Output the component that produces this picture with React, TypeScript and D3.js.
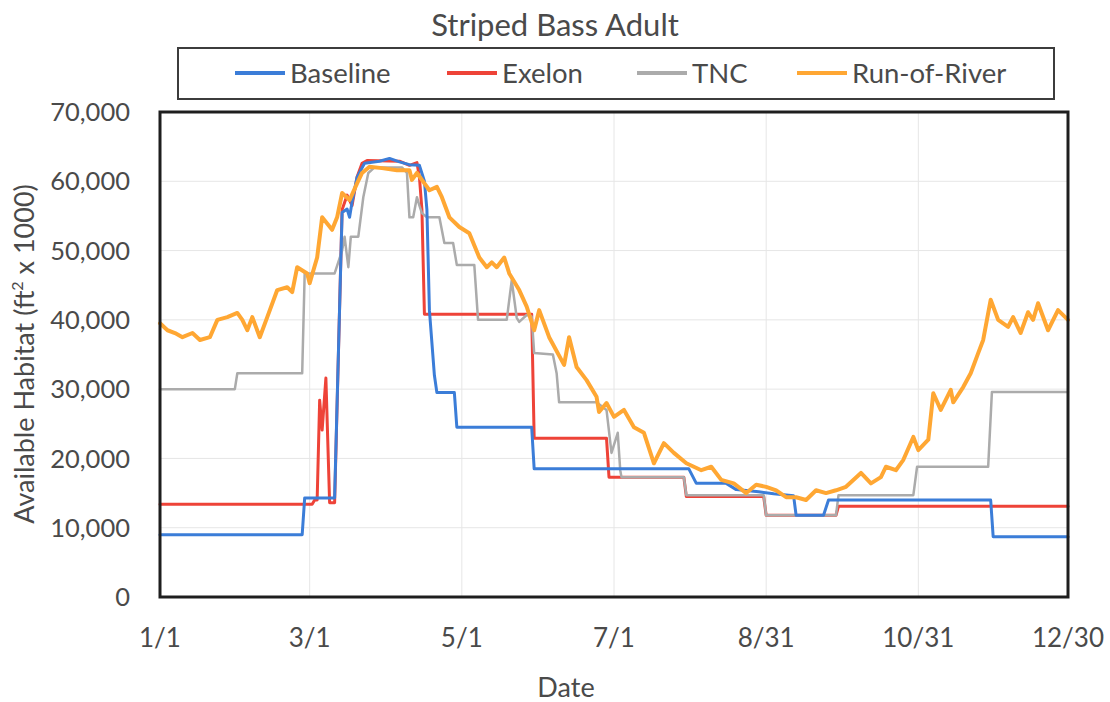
import React from "react";
import * as d3 from "d3";

// Day-of-year (leap year, 1/1 = 0) and value pairs
const baselinePts: [number, number][] = [
  [0, 9000], [57, 9000], [58, 14300], [70, 14300], [73, 55500], [75, 56000], [76, 54800],
  [77, 57000], [79, 60600], [82, 62600], [88, 62900], [92, 63300], [96, 62800], [100, 62400],
  [104, 62300], [106, 60000], [107, 55900], [108, 41400], [110, 32000], [111, 29500],
  [118, 29500], [119, 24500], [149, 24500], [150, 18500], [212, 18500], [215, 16400],
  [227, 16400], [231, 15500], [240, 15200], [246, 14900], [254, 14600], [255, 11800],
  [266, 11800], [268, 14000], [333, 14000], [334, 8700], [364, 8700],
];

const exelonPts: [number, number][] = [
  [0, 13400], [61, 13400], [62, 14000], [63, 14000], [64, 28400], [65, 24100], [66.5, 31600],
  [68, 13600], [70, 13600], [73, 55900], [75, 58000], [77, 56500], [79, 60600], [81, 62600],
  [83, 63000], [96, 62900], [100, 62300], [103, 62700], [104, 60600], [105, 55900],
  [106, 40800], [149, 40800], [150, 22900], [179, 22900], [180, 17300], [210, 17300],
  [211, 14500], [242, 14500], [243, 11800], [271, 11800], [272, 13100], [364, 13100],
];

const tncPts: [number, number][] = [
  [0, 30000], [30, 30000], [31, 32300], [57, 32300], [58, 46700], [70, 46700], [73, 50000],
  [74, 52000], [75.5, 47600], [76.5, 52000], [79.5, 52000], [81.5, 57700], [83.5, 61200],
  [86, 62000], [97, 62000], [99, 61200], [100, 54800], [101.5, 54800], [103, 57700],
  [104, 56500], [105, 55400], [107, 54800], [112, 54800], [114, 51100], [117.5, 51100],
  [119, 47900], [126, 47900], [127.5, 40000], [139, 40000], [141, 45700], [143, 40300],
  [144, 39700], [147, 40700], [149, 40500], [150, 35200], [157.5, 35000], [159, 32300],
  [160, 28100], [175, 28100], [179, 27000], [181, 20800], [183.5, 23700], [184.5, 18300],
  [185, 17300], [210, 17300], [211, 14700], [242, 14700], [243, 11800], [271, 11800],
  [272, 14700], [302, 14700], [303.5, 18800], [332, 18800], [333.5, 29600], [364, 29600],
];

const rorPts: [number, number][] = [
  [0, 39500], [3, 38500], [6, 38100], [9, 37500], [13, 38100], [16, 37100], [20, 37500],
  [23, 40000], [27, 40400], [31, 41000], [33, 40000], [35, 38500], [37, 40400], [40, 37500],
  [43, 40400], [47, 44300], [51, 44700], [53, 44000], [55, 47600], [59, 46700], [60, 45300],
  [63, 49000], [65, 54800], [69, 53000], [71, 54800], [73, 58300], [76, 57300], [79, 59700],
  [81, 61200], [84, 62100], [89, 61900], [95, 61600], [100, 61600], [101, 60200],
  [103, 61200], [105, 60200], [108, 58700], [111, 59200], [113, 57700], [116, 54800],
  [120, 53400], [124, 52500], [128, 49000], [131, 47600], [133, 48300], [135, 47600],
  [138, 49000], [140, 46700], [144, 44300], [147, 41900], [150, 38500], [152, 41400],
  [156, 37500], [162, 33500], [164, 37500], [167, 33200], [171, 31300], [175, 28900],
  [176, 26700], [179, 28000], [182, 26000], [186, 27000], [190, 24500], [194, 23700],
  [198, 19300], [202, 22200], [206, 20800], [211, 19300], [217, 18300], [221, 18800],
  [225, 16900], [230, 16400], [235, 15000], [239, 16200], [243, 15900], [247, 15400],
  [251, 14400], [255, 14400], [259, 14000], [263, 15400], [267, 15000], [271, 15400],
  [275, 15900], [281, 17900], [285, 16400], [289, 17300], [291, 18800], [295, 18300],
  [298, 19800], [302, 23100], [304, 21200], [308, 22700], [310, 29400], [313, 27000],
  [317, 29900], [318, 28100], [322, 30300], [325, 32300], [328, 35200], [330, 37100],
  [333, 42900], [336, 40000], [340, 39000], [342, 40400], [345, 38100], [348, 41100],
  [350, 40000], [352, 42400], [356, 38500], [360, 41400], [364, 40000],
];

const seriesNames = ["Baseline", "Exelon", "TNC", "Run-of-River"];
const seriesColors = ["#3b7dd8", "#ee4338", "#ababab", "#ffa733"];
const xTickDays = [0, 60, 121, 182, 243, 304, 364];
const xTickLabels = ["1/1", "3/1", "5/1", "7/1", "8/31", "10/31", "12/30"];
const yTicks = [0, 10000, 20000, 30000, 40000, 50000, 60000, 70000];

const W = 1110;
const H = 702;
const plot = { left: 160, right: 1068, top: 112, bottom: 597 };
const font = "Lato, 'Open Sans', sans-serif";
const textColor = "#4a4a4a";

export default function App() {
  const x = d3.scaleLinear().domain([0, 364]).range([plot.left, plot.right]);
  const y = d3.scaleLinear().domain([0, 70000]).range([plot.bottom, plot.top]);
  const line = d3
    .line<[number, number]>()
    .x((d) => x(d[0]))
    .y((d) => y(d[1]));

  const fmt = d3.format(",");
  const series = [baselinePts, exelonPts, tncPts, rorPts];
  const widths = [3, 3, 2.5, 4];
  // drawing order: Exelon, TNC, Baseline, Run-of-River on top
  const order = [1, 2, 0, 3];
  const legendX = [235, 447, 637, 797];

  return (
    <svg
      width={W}
      height={H}
      style={{ position: "absolute", left: 0, top: 0, background: "#fff" }}
      fontFamily={font}
    >
      <rect x={0} y={0} width={W} height={H} fill="#fff" />

      {/* gridlines */}
      {yTicks.map((t) => (
        <line key={"gy" + t} x1={plot.left} x2={plot.right} y1={y(t)} y2={y(t)} stroke="#e6e6e6" strokeWidth={1} />
      ))}
      {xTickDays.map((d) => (
        <line key={"gx" + d} x1={x(d)} x2={x(d)} y1={plot.top} y2={plot.bottom} stroke="#e6e6e6" strokeWidth={1} />
      ))}

      {/* series */}
      {order.map((i) => (
        <path
          key={seriesNames[i]}
          d={line(series[i]) || ""}
          fill="none"
          stroke={seriesColors[i]}
          strokeWidth={widths[i]}
          strokeLinejoin="round"
          strokeLinecap="round"
        />
      ))}

      {/* plot frame */}
      <rect
        x={plot.left}
        y={plot.top}
        width={plot.right - plot.left}
        height={plot.bottom - plot.top}
        fill="none"
        stroke="#1e1e1e"
        strokeWidth={3}
      />

      {/* y tick labels */}
      {yTicks.map((t) => (
        <text key={"ty" + t} x={130} y={y(t)} dy="0.36em" textAnchor="end" fontSize={25.5} fill={textColor}>
          {fmt(t)}
        </text>
      ))}

      {/* x tick labels */}
      {xTickDays.map((d, i) => (
        <text key={"tx" + d} x={x(d)} y={647} textAnchor="middle" fontSize={26} fill={textColor}>
          {xTickLabels[i]}
        </text>
      ))}

      {/* axis titles */}
      <text x={566} y={697} textAnchor="middle" fontSize={27} fill={textColor}>
        Date
      </text>
      <text transform="translate(34,354) rotate(-90)" textAnchor="middle" fontSize={27} fill={textColor}>
        Available Habitat (ft<tspan fontSize={16} dy={-11}>2</tspan>
        <tspan dy={11}> x 1000)</tspan>
      </text>

      {/* title */}
      <text x={555} y={36} textAnchor="middle" fontSize={31} fill={textColor}>
        Striped Bass Adult
      </text>

      {/* legend */}
      <rect x={178} y={48} width={876} height={51} fill="#fff" stroke="#3c3c3c" strokeWidth={2} />
      {seriesNames.map((n, i) => (
        <g key={"lg" + n}>
          <line x1={legendX[i]} x2={legendX[i] + 50} y1={73} y2={73} stroke={seriesColors[i]} strokeWidth={4} />
          <text x={legendX[i] + 55} y={73} dy="0.36em" fontSize={27.5} fill={textColor}>
            {n}
          </text>
        </g>
      ))}
    </svg>
  );
}
